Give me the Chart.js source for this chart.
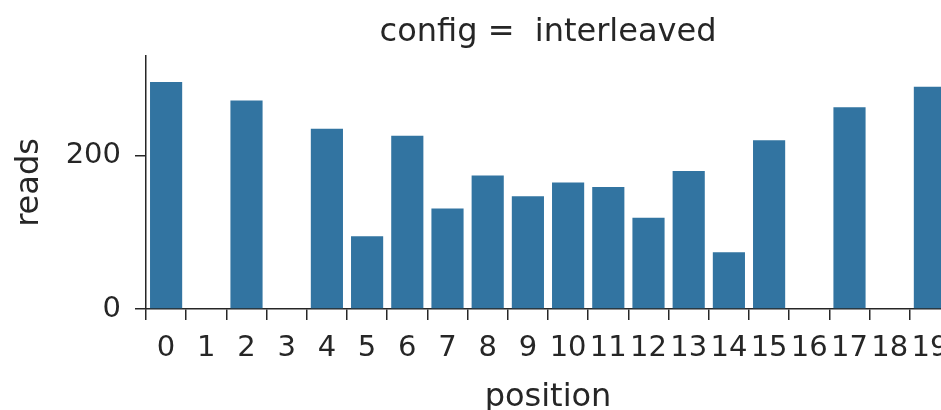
<!DOCTYPE html>
<html>
<head>
<meta charset="utf-8">
<script src="https://cdn.jsdelivr.net/npm/chart.js@4"></script>
<style>
  html, body { margin: 0; padding: 0; background: #fff; overflow: hidden; }
  #wrap { width: 941px; height: 410px; overflow: hidden; }
  canvas { display: block; }
</style>
</head>
<body>
<div id="wrap"><canvas id="chart" width="960" height="410"></canvas></div>
<script>
// ── Data ──────────────────────────────────────────────────
const positions = ['0', '1', '2', '3', '4', '5', '6', '7', '8', '9',
  '10', '11', '12', '13', '14', '15', '16', '17', '18', '19'];
const reads = [296, null, 272, null, 235, 95, 226, 131, 174, 147,
  165, 159, 119, 180, 74, 220, null, 263, null, 290];
const yTicks = [0, 200];
const yMax = 330;

// ── Styles ────────────────────────────────────────────────
const INK = '#262626';
const BAR = '#3274a1';
const FONT = 'DejaVu Sans';
const TICK_FONT = { family: FONT, size: 29 };
const LABEL_FONT = { family: FONT, size: 32, weight: 'normal' };

new Chart(document.getElementById('chart'), {
  type: 'bar',
  data: {
    labels: positions,
    datasets: [{
      data: reads,
      backgroundColor: BAR,
      borderWidth: 0,
      barPercentage: 0.8,
      categoryPercentage: 1.0,
    }],
  },
  options: {
    responsive: false,
    animation: false,
    layout: { padding: { left: 0, right: 10, top: 0, bottom: 0 } },
    plugins: {
      legend: { display: false },
      tooltip: { enabled: false },
      title: {
        display: true,
        fullSize: false, // centre over the plot area, not the canvas
        text: 'config =  interleaved',
        color: INK,
        font: { ...LABEL_FONT, lineHeight: 1.2 },
        padding: { top: 13, bottom: 4.6 },
      },
    },
    scales: {
      x: {
        offset: true,
        grid: { display: true, drawOnChartArea: false, drawTicks: true, tickLength: 11, color: INK, lineWidth: 1.5 },
        border: { display: true, color: INK, width: 1.5 },
        ticks: { color: INK, font: TICK_FONT, padding: 11, maxRotation: 0, autoSkip: false },
        title: { display: true, text: 'position', color: INK, font: { ...LABEL_FONT, lineHeight: 0.8 }, padding: { top: 0, bottom: 0 } },
        afterFit: s => { s.height = 101; },
      },
      y: {
        min: 0,
        max: yMax,
        grid: { display: true, drawOnChartArea: false, drawTicks: true, tickLength: 11, color: INK, lineWidth: 1.5 },
        border: { display: true, color: INK, width: 1.5 },
        ticks: { color: INK, font: TICK_FONT, padding: 14 },
        afterBuildTicks: s => { s.ticks = yTicks.map(v => ({ value: v })); },
        title: { display: true, text: 'reads', color: INK, font: { ...LABEL_FONT, lineHeight: 1.2 }, padding: { top: 10.5, bottom: 0 } },
        afterFit: s => { s.width = 146; },
      },
    },
  },
});
</script>
</body>
</html>
